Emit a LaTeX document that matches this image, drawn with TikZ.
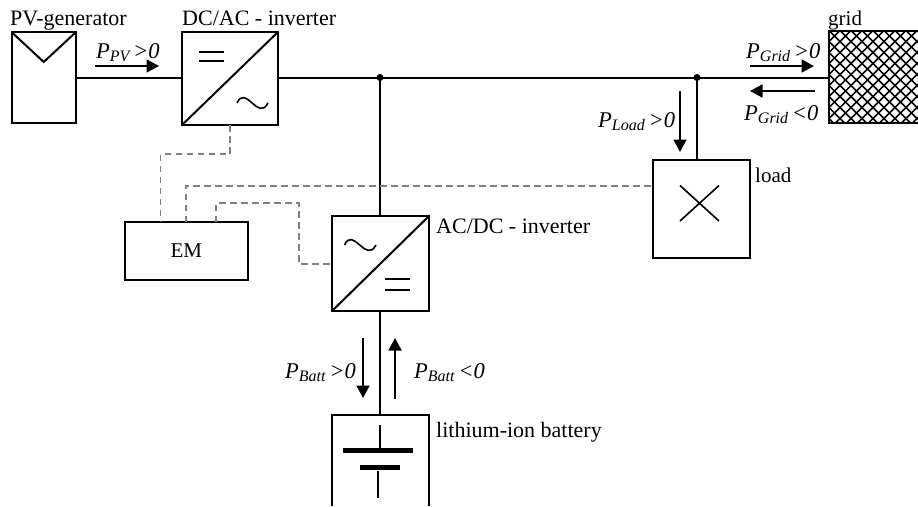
\documentclass[tikz,border=0pt]{standalone}
\usepackage{fontspec}
\setmainfont{Liberation Serif}
\usetikzlibrary{arrows.meta,calc}
\newcommand{\plab}[2]{{\fontsize{22.5}{24}\selectfont\itshape P\raisebox{-3.5pt}{\fontsize{16}{17}\selectfont #1}\,#2}}
\tikzset{
  x=1pt,y=-1pt,
  wire/.style={draw=black,line width=2pt},
  thin wire/.style={draw=black,line width=1.6pt},
  ctrl/.style={draw=black!50,line width=1.8pt,dash pattern=on 6.5pt off 4.5pt},
  boxn/.style={draw=black,line width=2pt,fill=white,inner sep=0pt,outer sep=0pt},
  lab/.style={anchor=base west,inner sep=0pt,font=\fontsize{22}{24}\selectfont},
  short lab/.style={anchor=base west,inner sep=0pt,font=\fontsize{21}{24}\selectfont},
  plabel/.style={anchor=base west,inner sep=0pt},
  flow/.style={draw=black,line width=1.8pt,-{Triangle[length=12.5pt,width=13pt]}},
  dot/.style={circle,fill=black,inner sep=0pt,minimum size=7pt}
}
\begin{document}
\begin{tikzpicture}
\useasboundingbox (0,0) rectangle (918,506);

% boxes
\node[boxn,minimum width=64.5pt,minimum height=91pt] (pv) at (43.75,77.5) {};
\node[boxn,minimum width=96pt,minimum height=93pt] (inva) at (230,78.5) {};
\node[boxn,minimum width=123.5pt,minimum height=58pt] (em) at (186.25,251) {\fontsize{21}{24}\selectfont EM};
\node[boxn,minimum width=97pt,minimum height=95pt] (invb) at (380.5,263.5) {};
\node[boxn,minimum width=97pt,minimum height=98pt] (load) at (701.5,209) {};
\node[inner sep=0pt,outer sep=0pt,minimum width=97pt,minimum height=91pt] (batt) at (380.5,460.5) {};
\node[inner sep=0pt,outer sep=0pt,minimum width=89pt,minimum height=92.5pt] (grid) at (873.5,77) {};

% grid hatching
\begin{scope}
  \clip (grid.south west) rectangle (grid.north east);
  \foreach \k in {-12,...,24} {
    \draw[black,line width=1.6pt] ({829+\k*11},30.5) -- ++(93,93);
    \draw[black,line width=1.6pt] ({829+\k*11},30.5) -- ++(-93,93);
  }
\end{scope}
\draw[wire] (grid.north east) -- (grid.north west) -- (grid.south west) -- (grid.south east);

% junctions
\coordinate (ja) at (380,77.5);
\coordinate (jb) at (697,77.5);
\node[dot] (dota) at (ja) {};
\node[dot] (dotb) at (jb) {};

% power lines
\draw[wire] (pv.east) -- (inva.west |- pv.east);
\draw[wire] (inva.east |- ja) -- (ja) -- (jb) -- (grid.west |- jb);
\draw[wire] (ja) -- (ja |- invb.north);
\draw[wire] (ja |- invb.south) -- (ja |- batt.north);
\draw[wire] (jb) -- (jb |- load.north);

% battery box, open at the bottom edge
\draw[wire] (batt.south west) -- (batt.north west) -- (batt.north east) -- (batt.south east);

% PV symbol
\coordinate (pvv) at (43.75,62);
\draw[wire] (pv.north west) -- (pvv) -- (pv.north east);

% inverter symbols
\draw[wire] (inva.south west) -- (inva.north east);
\draw[thin wire] (199,52) -- (224,52) (199,61) -- (224,61);
\draw[thin wire] (237,103) .. controls (246,84) and (258,122) .. (268,103);
\draw[wire] (invb.south west) -- (invb.north east);
\draw[thin wire] (385,279) -- (410,279) (385,290) -- (410,290);
\draw[thin wire] (344.5,245) .. controls (353,226) and (366,264) .. (376,245);

% load cross
\draw[thin wire] (680,185.5) -- (719,221) (719,185.5) -- (680,221);

% battery symbol
\draw[thin wire] (379.7,425) -- (379.7,450);
\draw[black,line width=5pt] (343,450.5) -- (413,450.5);
\draw[black,line width=5pt] (359.5,467.5) -- (400,467.5);
\draw[thin wire] (378,471) -- (378,498);

% control lines
\draw[ctrl] (inva.south) -- (230,154) -- (160.5,154) -- (160.5,222);
\draw[ctrl] (185.7,222) -- (185.7,185.7) -- (load.west |- 0,185.7);
\draw[ctrl] (216,222) -- (216,203) -- (298.7,203) -- (298.7,264) -- (invb.west |- 0,264);

% flow arrows
\coordinate (fa1) at (95,66); \coordinate (fa2) at (159,66);
\coordinate (fb1) at (750,66); \coordinate (fb2) at (814,66);
\coordinate (fc1) at (815,91); \coordinate (fc2) at (750,91);
\coordinate (fd1) at (680,91); \coordinate (fd2) at (680,152);
\coordinate (fe1) at (363,338); \coordinate (fe2) at (363,398);
\coordinate (ff1) at (395,399); \coordinate (ff2) at (395,338);
\draw[flow] (fa1) -- (fa2);
\draw[flow] (fb1) -- (fb2);
\draw[flow] (fc1) -- (fc2);
\draw[flow] (fd1) -- (fd2);
\draw[flow] (fe1) -- (fe2);
\draw[flow] (ff1) -- (ff2);

% labels
\node[lab] (lpv) at (10,25) {PV-generator};
\node[lab] (linva) at (182,25) {DC/AC - inverter};
\node[short lab] (lgrid) at (828,25) {grid};
\node[short lab] (lload) at (755,182) {load};
\node[lab] (linvb) at (436,233) {AC/DC - inverter};
\node[lab] (lbatt) at (436,437) {lithium-ion battery};
\node[plabel] (ppv) at (96,58) {\plab{PV}{>0}};
\node[plabel] (pga) at (746,58) {\plab{Grid}{>0}};
\node[plabel] (pgb) at (744,120) {\plab{Grid}{<0}};
\node[plabel] (pl) at (598,127) {\plab{Load}{>0}};
\node[plabel] (pba) at (285,378) {\plab{Batt}{>0}};
\node[plabel] (pbb) at (414,378) {\plab{Batt}{<0}};
\end{tikzpicture}
\end{document}
